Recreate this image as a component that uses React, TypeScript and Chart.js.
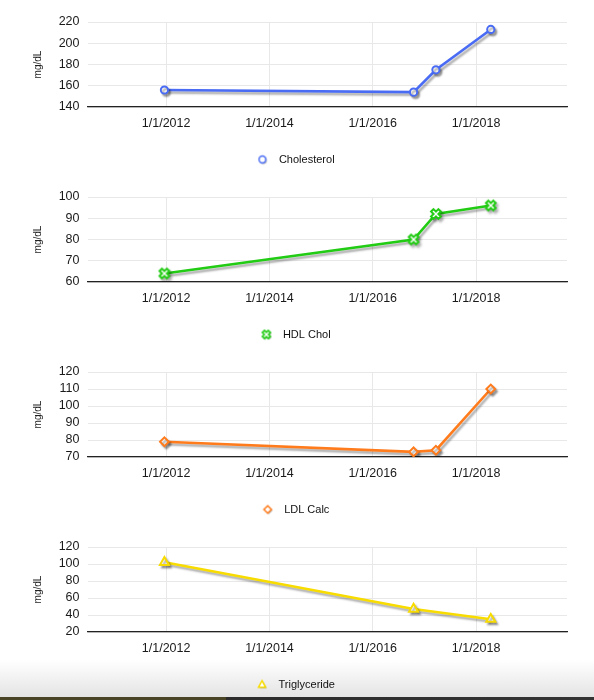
import React, { useEffect, useRef } from 'react';
import { Chart, registerables } from 'chart.js';

Chart.register(...registerables);

// ---- data ----
const visitDates = ['2011-12-20', '2016-10-16', '2017-03-23', '2018-04-15'];
const triglycerideDates = ['2011-12-20', '2016-10-16', '2018-04-15'];
const cholesterolValues = [156, 154, 175, 213];
const hdlValues = [64, 80, 92, 96];
const ldlValues = [79, 73, 74, 110];
const triglycerideValues = [102, 47, 35];
const xTickDates = ['2012-01-01', '2014-01-01', '2016-01-01', '2018-01-01'];
const xRangeDates = ['2010-06-24', '2019-10-06'];
const seriesLabels = ['Cholesterol', 'HDL Chol', 'LDL Calc', 'Triglyceride'];
const yRanges = [
  [140, 220, 20],
  [60, 100, 10],
  [70, 120, 10],
  [20, 120, 20],
];
const yAxisTitle = 'mg/dL';

const toMs = (s: string) => {
  const [y, m, d] = s.split('-').map(Number);
  return Date.UTC(y, m - 1, d);
};

const fmtDate = (v: number) => {
  const dt = new Date(v);
  return `${dt.getUTCMonth() + 1}/${dt.getUTCDate()}/${dt.getUTCFullYear()}`;
};

type Kind = 'circle' | 'cross' | 'diamond' | 'triangle';

interface PanelCfg {
  label: string;
  dates: string[];
  values: number[];
  color: string;
  kind: Kind;
  range: number[];
}

const panels: PanelCfg[] = [
  { label: seriesLabels[0], dates: visitDates, values: cholesterolValues, color: '#4a6cf4', kind: 'circle', range: yRanges[0] },
  { label: seriesLabels[1], dates: visitDates, values: hdlValues, color: '#22cc14', kind: 'cross', range: yRanges[1] },
  { label: seriesLabels[2], dates: visitDates, values: ldlValues, color: '#ff7b1c', kind: 'diamond', range: yRanges[2] },
  { label: seriesLabels[3], dates: triglycerideDates, values: triglycerideValues, color: '#f8dc00', kind: 'triangle', range: yRanges[3] },
];

const FONT = "'Liberation Sans', Arial, sans-serif";

function crossPath(ctx: CanvasRenderingContext2D, cx: number, cy: number, w: number, L: number) {
  const pts = [
    [-w, -L], [w, -L], [w, -w], [L, -w], [L, w], [w, w],
    [w, L], [-w, L], [-w, w], [-L, w], [-L, -w], [-w, -w],
  ];
  const c = Math.SQRT1_2;
  ctx.beginPath();
  pts.forEach(([px, py], i) => {
    const rx = px * c - py * c;
    const ry = px * c + py * c;
    if (i === 0) ctx.moveTo(cx + rx, cy + ry);
    else ctx.lineTo(cx + rx, cy + ry);
  });
  ctx.closePath();
}

function makeMarker(kind: Kind, color: string, size: number, shadow: boolean): HTMLCanvasElement {
  const c = document.createElement('canvas');
  c.width = size;
  c.height = size;
  const ctx = c.getContext('2d')!;
  const cx = size / 2;
  const cy = size / 2;
  if (shadow) {
    ctx.shadowColor = 'rgba(0,0,0,0.35)';
    ctx.shadowOffsetX = 1;
    ctx.shadowOffsetY = 1;
    ctx.shadowBlur = 1;
  }
  ctx.fillStyle = '#ffffff';
  ctx.strokeStyle = color;
  const s = size / 12;
  if (kind === 'circle') {
    ctx.lineWidth = 1.5;
    ctx.beginPath();
    ctx.arc(cx, cy, 3.4 * s, 0, Math.PI * 2);
  } else if (kind === 'cross') {
    ctx.lineWidth = 1.6;
    crossPath(ctx, cx, cy, 1.5 * s, 4.2 * s);
  } else if (kind === 'diamond') {
    ctx.lineWidth = 1.5;
    ctx.beginPath();
    ctx.moveTo(cx, cy - 3.8 * s);
    ctx.lineTo(cx + 3.8 * s, cy);
    ctx.lineTo(cx, cy + 3.8 * s);
    ctx.lineTo(cx - 3.8 * s, cy);
    ctx.closePath();
  } else {
    ctx.lineWidth = 1.5;
    ctx.beginPath();
    ctx.moveTo(cx, cy - 3.8 * s);
    ctx.lineTo(cx + 3.6 * s, cy + 2.8 * s);
    ctx.lineTo(cx - 3.6 * s, cy + 2.8 * s);
    ctx.closePath();
  }
  ctx.fill();
  ctx.shadowColor = 'transparent';
  ctx.stroke();
  return c;
}

function makeCrossPoint(color: string): HTMLCanvasElement {
  const size = 16;
  const c = document.createElement('canvas');
  c.width = size;
  c.height = size;
  const ctx = c.getContext('2d')!;
  ctx.fillStyle = '#ffffff';
  ctx.strokeStyle = color;
  ctx.lineWidth = 2;
  ctx.lineJoin = 'miter';
  crossPath(ctx, size / 2, size / 2, 1.7, 5.2);
  ctx.fill();
  ctx.stroke();
  return c;
}

const shadowPlugin = {
  id: 'lineShadow',
  beforeDatasetsDraw(chart: any) {
    const ctx = chart.ctx;
    ctx.save();
    ctx.shadowColor = 'rgba(0,0,0,0.33)';
    ctx.shadowOffsetX = 2;
    ctx.shadowOffsetY = 2.5;
    ctx.shadowBlur = 2;
  },
  afterDatasetsDraw(chart: any) {
    chart.ctx.restore();
  },
};

function Panel({ cfg }: { cfg: PanelCfg }) {
  const ref = useRef<HTMLCanvasElement>(null);
  useEffect(() => {
    if (!ref.current) return;
    const [yMin, yMax, yStep] = cfg.range;
    let pointStyle: any = cfg.kind === 'circle' ? 'circle' : cfg.kind === 'diamond' ? 'rectRot' : 'triangle';
    let pointRadius = cfg.kind === 'circle' ? 3.6 : cfg.kind === 'diamond' ? 4.4 : 5.2;
    if (cfg.kind === 'cross') {
      pointStyle = makeCrossPoint(cfg.color);
      pointRadius = 6;
    }
    const legendMarker = makeMarker(cfg.kind, cfg.color, 12, true);
    const xTicks = xTickDates.map(toMs);
    const chart = new Chart(ref.current, {
      type: 'line',
      data: {
        datasets: [
          {
            label: cfg.label,
            data: cfg.dates.map((d, i) => ({ x: toMs(d), y: cfg.values[i] })),
            borderColor: cfg.color,
            backgroundColor: '#ffffff',
            borderWidth: 2.6,
            tension: 0,
            pointStyle,
            pointRadius,
            pointBorderWidth: 2,
            pointBorderColor: cfg.color,
            pointBackgroundColor: '#ffffff',
            fill: false,
          },
        ],
      },
      options: {
        animation: false,
        responsive: false,
        devicePixelRatio: window.devicePixelRatio || 1,
        layout: { padding: { top: 22, right: 27, left: 19, bottom: 0 } },
        plugins: {
          tooltip: { enabled: false },
          legend: {
            display: true,
            position: 'bottom',
            align: 'center',
            labels: {
              usePointStyle: true,
              pointStyleWidth: 22,
              boxHeight: 8,
              padding: 10,
              color: '#111111',
              font: { family: FONT, size: 11 },
              generateLabels: () => [
                {
                  text: cfg.label,
                  pointStyle: legendMarker as any,
                  fillStyle: '#ffffff',
                  strokeStyle: cfg.color,
                  lineWidth: 0,
                  hidden: false,
                  datasetIndex: 0,
                  fontColor: '#111111',
                } as any,
              ],
            },
          },
        },
        scales: {
          x: {
            type: 'linear',
            min: toMs(xRangeDates[0]),
            max: toMs(xRangeDates[1]),
            afterBuildTicks: (scale: any) => {
              scale.ticks = xTicks.map((v) => ({ value: v }));
            },
            afterFit: (scale: any) => {
              scale.height = 37;
            },
            ticks: {
              autoSkip: false,
              maxRotation: 0,
              padding: 9,
              color: '#1a1a1a',
              font: { family: FONT, size: 12.5 },
              callback: (v: any) => fmtDate(Number(v)),
            },
            grid: { color: '#e8e8e8', drawTicks: false, lineWidth: 1 },
            border: { display: true, color: '#222222', width: 1.3 },
          },
          y: {
            type: 'linear',
            min: yMin,
            max: yMax,
            afterFit: (scale: any) => {
              scale.width = 68.5;
            },
            ticks: {
              stepSize: yStep,
              autoSkip: false,
              padding: 8,
              color: '#1a1a1a',
              font: { family: FONT, size: 12.5 },
            },
            grid: { color: '#e8e8e8', drawTicks: false, lineWidth: 1 },
            border: { display: false },
            title: {
              display: true,
              text: yAxisTitle,
              color: '#222222',
              font: { family: FONT, size: 10 },
              padding: { top: 13, bottom: 0 },
            },
          },
        },
      },
      plugins: [shadowPlugin],
    } as any);
    return () => chart.destroy();
  }, [cfg]);
  return (
    <canvas
      ref={ref}
      width={594}
      height={175}
      style={{ display: 'block', width: 594, height: 175 }}
    />
  );
}

export default function App() {
  return (
    <div
      style={{
        position: 'absolute',
        left: 0,
        top: 0,
        width: 594,
        height: 700,
        background: '#ffffff',
        overflow: 'hidden',
      }}
    >
      <div
        style={{
          position: 'absolute',
          left: 0,
          top: 660,
          width: 594,
          height: 38,
          background: 'linear-gradient(#ffffff, #e3e3e3)',
        }}
      />
      <div
        style={{
          position: 'absolute',
          left: 0,
          top: 697,
          width: 594,
          height: 3,
          background: 'linear-gradient(to right, #4a4426 0%, #4a4426 38%, #2b2b2b 38%, #333333 100%)',
        }}
      />
      <div style={{ position: 'absolute', left: 0, top: 0 }}>
        {panels.map((p) => (
          <Panel key={p.label} cfg={p} />
        ))}
      </div>
    </div>
  );
}
